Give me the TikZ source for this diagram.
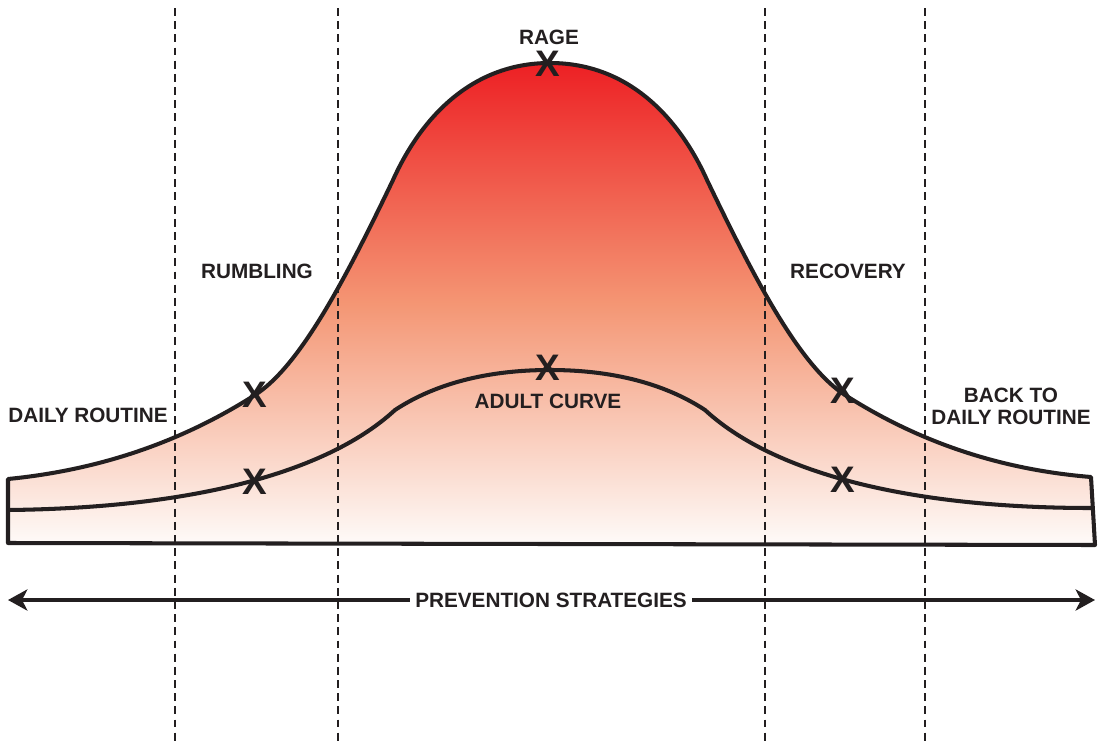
\documentclass[tikz,border=0pt]{standalone}
\usepackage{fontspec}
\setmainfont{Liberation Sans}
\usetikzlibrary{arrows.meta}
\definecolor{ragered}{RGB}{237,32,36}
\definecolor{rumblesalmon}{RGB}{244,150,116}
\definecolor{calmwhite}{RGB}{254,251,249}
\definecolor{inkblack}{RGB}{35,31,32}

\begin{document}
\begin{tikzpicture}[x=0.02cm,y=-0.02cm,
  phase/.style={font=\fontsize{11.8}{12.4}\selectfont\bfseries,align=center,text=inkblack},
  xmark/.style={font=\fontsize{21}{21}\selectfont\bfseries,inner sep=0pt,text=inkblack},
  curve/.style={line width=2.3pt,draw=inkblack,line join=round},
  divider/.style={dash pattern=on 4.5pt off 3pt,line width=0.7pt,draw=inkblack},
  strategy/.style={line width=2.3pt,draw=inkblack,-{Stealth[length=11pt,width=12pt,inset=3pt]}}]
\useasboundingbox (0,0) rectangle (1100,744);

\shade[top color=ragered,bottom color=calmwhite,middle color=rumblesalmon]
  (8,543) -- (8,479)
  .. controls (120,468) and (200,430) .. (255,395)
  .. controls (300,366) and (345,280) .. (393,180)
  .. controls (420,120) and (470,63) .. (550,63)
  .. controls (630,63) and (680,120) .. (707,180)
  .. controls (755,280) and (800,366) .. (845,395)
  .. controls (900,430) and (980,468) .. (1091,477)
  -- (1095,545) -- cycle;

\foreach \x in {175,338,765,925}{
  \draw[divider] (\x,8) -- (\x,744);
}

\draw[curve] (8,543) -- (8,479)
  .. controls (120,468) and (200,430) .. (255,395)
  .. controls (300,366) and (345,280) .. (393,180)
  .. controls (420,120) and (470,63) .. (550,63)
  .. controls (630,63) and (680,120) .. (707,180)
  .. controls (755,280) and (800,366) .. (845,395)
  .. controls (900,430) and (980,468) .. (1091,477)
  -- (1095,545) -- cycle;
\draw[curve] (8,510)
  .. controls (200,508) and (330,470) .. (395,410)
  .. controls (430,387) and (480,370) .. (550,370)
  .. controls (620,370) and (670,387) .. (705,410)
  .. controls (770,470) and (900,508) .. (1091,508);

\foreach \x/\y [count=\i] in {548/64,255/395,843/391,548/368,255/482,843/480}{
  \node[xmark] (x\i) at (\x,\y) {X};
}

\node[phase] (rage) at (549,37) {RAGE};
\node[phase] (rumbling) at (257,271) {RUMBLING};
\node[phase] (recovery) at (848,271) {RECOVERY};
\node[phase] (routine) at (88,415) {DAILY ROUTINE};
\node[phase] (backto) at (1011,406) {BACK TO\\DAILY ROUTINE};
\node[phase] (adult) at (548,401) {ADULT CURVE};

\node[phase,fill=white,inner xsep=3pt] (prevent) at (551,600) {PREVENTION STRATEGIES};
\coordinate (leftend) at (8,600);
\coordinate (rightend) at (1095,600);
\draw[strategy] (prevent) -- (leftend);
\draw[strategy] (prevent) -- (rightend);
\end{tikzpicture}
\end{document}
